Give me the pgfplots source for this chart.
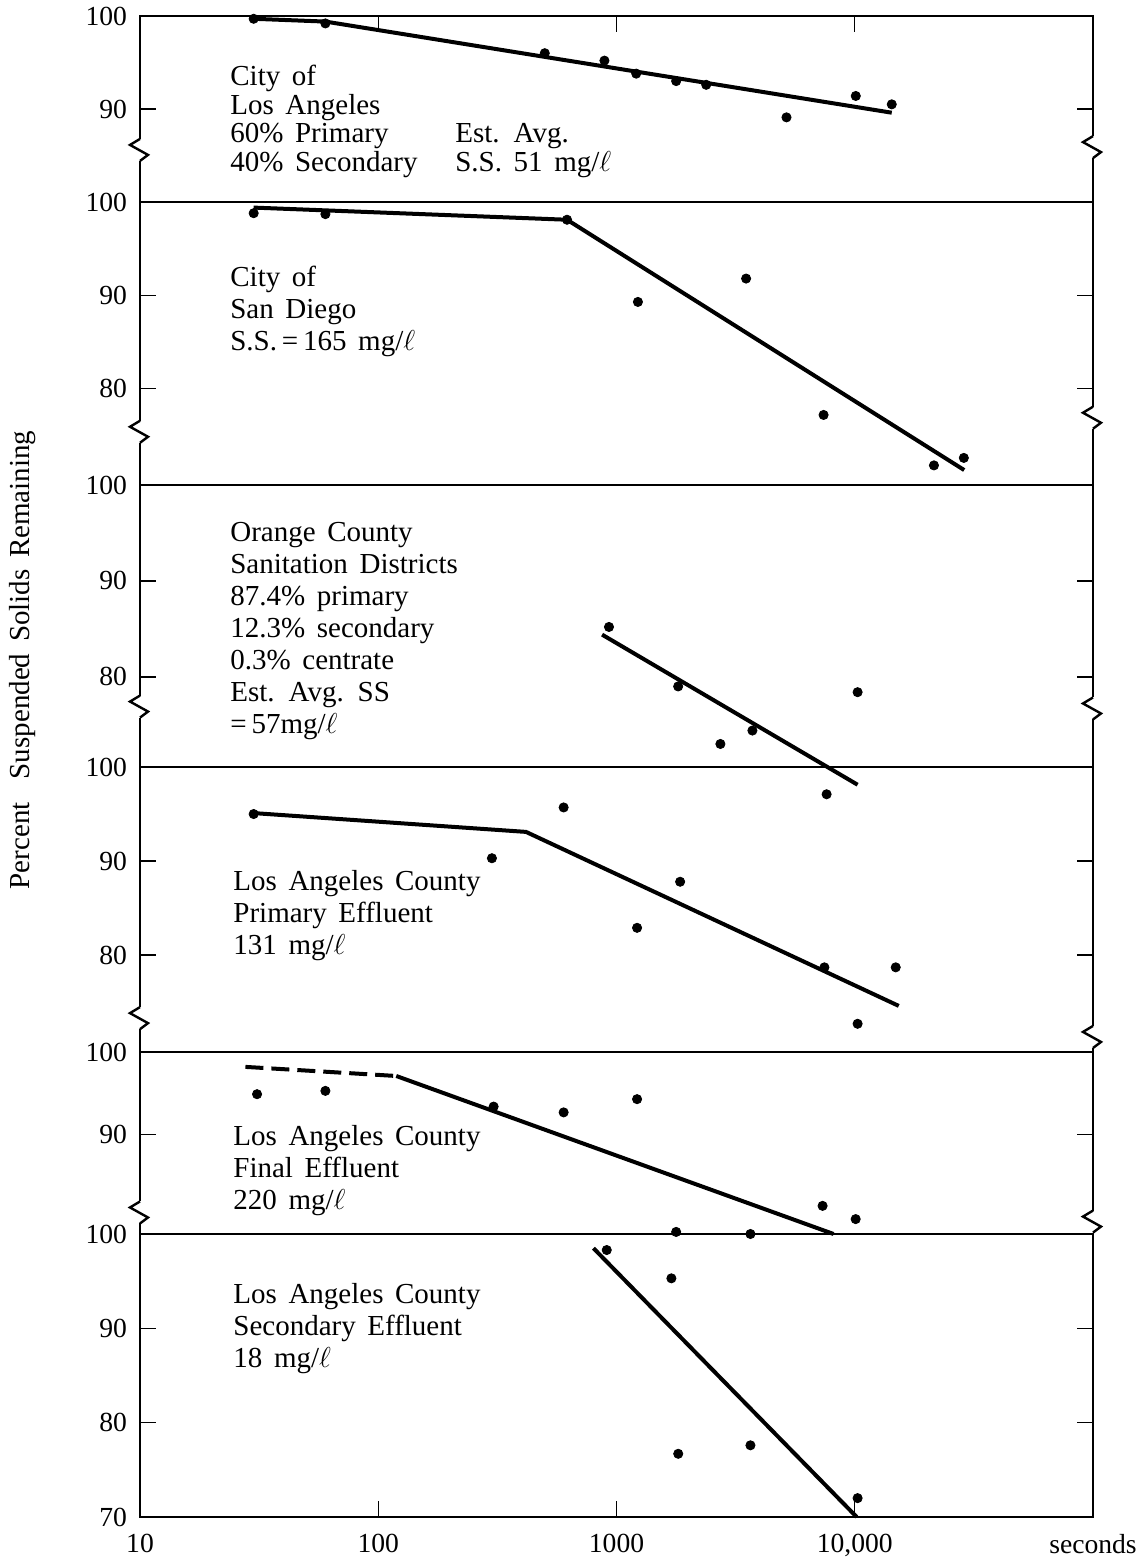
\documentclass[border=0pt]{standalone}
\usepackage{fontspec}
\setmainfont{Liberation Serif}[WordSpace=1.6]
\usepackage{pgfplots}
\pgfplotsset{compat=1.18}

\newcommand{\brk}[2]{%
  \draw[white,line width=3.2pt] ([yshift=-5.5pt]axis cs:#1,#2) -- ([yshift=5.5pt]axis cs:#1,#2);
  \draw[line width=1.2pt,line join=miter] ([yshift=5.5pt]axis cs:#1,#2) -- ([shift={(-5pt,2.5pt)}]axis cs:#1,#2) -- ([shift={(4pt,-2.5pt)}]axis cs:#1,#2) -- ([yshift=-5.5pt]axis cs:#1,#2);
}

\pgfplotsset{
  every axis/.append style={
    scale only axis, width=476.5pt, anchor=south west,
    xmin=10, xmax=100000, ymax=100,
    clip=false, xminorticks=false, yminorticks=false,
    axis line style={line width=1.3pt},
    tick style={line width=0.7pt, black},
    major tick length=8pt, tick align=inside,
    ytick pos=both, yticklabel pos=left,
    ticklabel style={font=\fontsize{13.8}{15}\selectfont},
    yticklabel style={xshift=-3pt},
    xticklabel style={yshift=-5pt},
    /pgf/number format/assume math mode=true,
  },
}
\tikzset{
  mytxt/.style={anchor=north west, align=left, inner sep=0pt, font=\fontsize{14.5}{16}\selectfont},
}

\begin{document}
\begin{tikzpicture}
\useasboundingbox (-70pt,-21.5pt) rectangle (499pt,758.5pt);

% Panel 1: City of Los Angeles
\begin{semilogxaxis}[at={(0pt,657.5pt)}, height=93pt, ymin=80, ytick={90,100},
  xtick={100,1000,10000}, xtick pos=right, xticklabels={}]
\addplot[no markers, line width=2pt, black] coordinates {(30,99.7) (60,99.4) (14300,89.6)};
\addplot[only marks, mark=*, mark size=2.3pt, black] coordinates {(30,99.7) (60,99.2) (500,96.0) (890,95.2) (1210,93.8) (1780,93.0) (2380,92.6) (5170,89.1) (10100,91.4) (14300,90.5)};
\node[mytxt, font=\fontsize{14.5}{14.3}\selectfont] at (rel axis cs:0.0944,0.737) {City of\\Los Angeles\\60\% Primary\\40\% Secondary};
\node[mytxt, font=\fontsize{14.5}{14.3}\selectfont] at (rel axis cs:0.3305,0.425) {Est. Avg.\\S.S. 51 mg/$\ell$};
\brk{10}{85.6}
\brk{100000}{85.9}
\end{semilogxaxis}

% Panel 2: City of San Diego
\begin{semilogxaxis}[at={(0pt,516pt)}, height=141.5pt, ymin=69.7, ytick={80,90,100}, xtick=\empty]
\addplot[no markers, line width=2pt, black] coordinates {(30,99.4) (620,98.1) (28800,71.3)};
\addplot[only marks, mark=*, mark size=2.3pt, black] coordinates {(30,98.8) (60,98.7) (620,98.1) (1230,89.3) (3500,91.8) (7400,77.2) (21500,71.8) (28700,72.6)};
\node[mytxt] at (rel axis cs:0.0944,0.775) {City of\\San Diego\\S.S.\,=\,165 mg/$\ell$};
\brk{10}{75.4}
\brk{100000}{76.9}
\end{semilogxaxis}

% Panel 3: Orange County
\begin{semilogxaxis}[at={(0pt,375pt)}, height=141pt, ymin=70.6, ytick={80,90,100}, xtick=\empty]
\addplot[no markers, line width=2pt, black] coordinates {(870,84.4) (10280,68.75)};
\addplot[only marks, mark=*, mark size=2.3pt, black] coordinates {(930,85.2) (1815,79.0) (2730,73.0) (3720,74.4) (10280,78.4)};
\node[mytxt] at (rel axis cs:0.0944,0.869) {Orange County\\Sanitation Districts\\87.4\% primary\\12.3\% secondary\\0.3\% centrate\\Est. Avg. SS\\=\,57mg/$\ell$};
\brk{10}{76.9}
\brk{100000}{76.7}
\end{semilogxaxis}

% Panel 4: LA County primary effluent
\begin{semilogxaxis}[at={(0pt,232.5pt)}, height=142.5pt, ymin=69.7, ytick={80,90,100}, xtick=\empty]
\addplot[no markers, line width=2pt, black] coordinates {(30,95.1) (417,93.1) (15300,74.6)};
\addplot[only marks, mark=*, mark size=2.3pt, black] coordinates {(30,95.0) (300,90.3) (600,95.7) (1220,82.9) (1850,87.8) (7460,78.7) (14860,78.7) (10280,72.7) (7620,97.1)};
\node[mytxt] at (rel axis cs:0.0976,0.639) {Los Angeles County\\Primary Effluent\\131 mg/$\ell$};
\brk{10}{73.3}
\brk{100000}{71.3}
\end{semilogxaxis}

% Panel 5: LA County final effluent
\begin{semilogxaxis}[at={(0pt,141.5pt)}, height=91pt, ymin=78, ytick={90,100}, xtick=\empty]
\addplot[no markers, line width=2pt, black, dash pattern=on 9pt off 4pt] coordinates {(27.7,98.2) (119,97.1)};
\addplot[no markers, line width=2pt, black] coordinates {(119,97.1) (8150,78.0)};
\addplot[only marks, mark=*, mark size=2.3pt, black] coordinates {(31,94.9) (60,95.3) (305,93.4) (600,92.7) (1220,94.3) (7330,81.4) (10090,79.8) (1780,78.25) (3650,78.0)};
\node[mytxt] at (rel axis cs:0.0976,0.599) {Los Angeles County\\Final Effluent\\220 mg/$\ell$};
\brk{10}{80.6}
\brk{100000}{79.5}
\end{semilogxaxis}

% Panel 6: LA County secondary effluent
\begin{semilogxaxis}[at={(0pt,0pt)}, height=141.5pt, ymin=70, ytick={70,80,90,100},
  xtick={10,100,1000,10000,100000}, xticklabels={10,100,1000,{10,000},seconds}, xtick pos=left]
\addplot[no markers, line width=2pt, black] coordinates {(800,98.5) (10190,70.0)};
\addplot[only marks, mark=*, mark size=2.3pt, black] coordinates {(910,98.3) (1700,95.3) (1816,76.7) (3650,77.6) (10280,72.0)};
\node[mytxt] at (rel axis cs:0.0976,0.827) {Los Angeles County\\Secondary Effluent\\18 mg/$\ell$};
\end{semilogxaxis}

\node[rotate=90, font=\fontsize{14.5}{16}\selectfont] at (-58.5pt,428.5pt) {Percent\ \ Suspended Solids Remaining};
\end{tikzpicture}
\end{document}
